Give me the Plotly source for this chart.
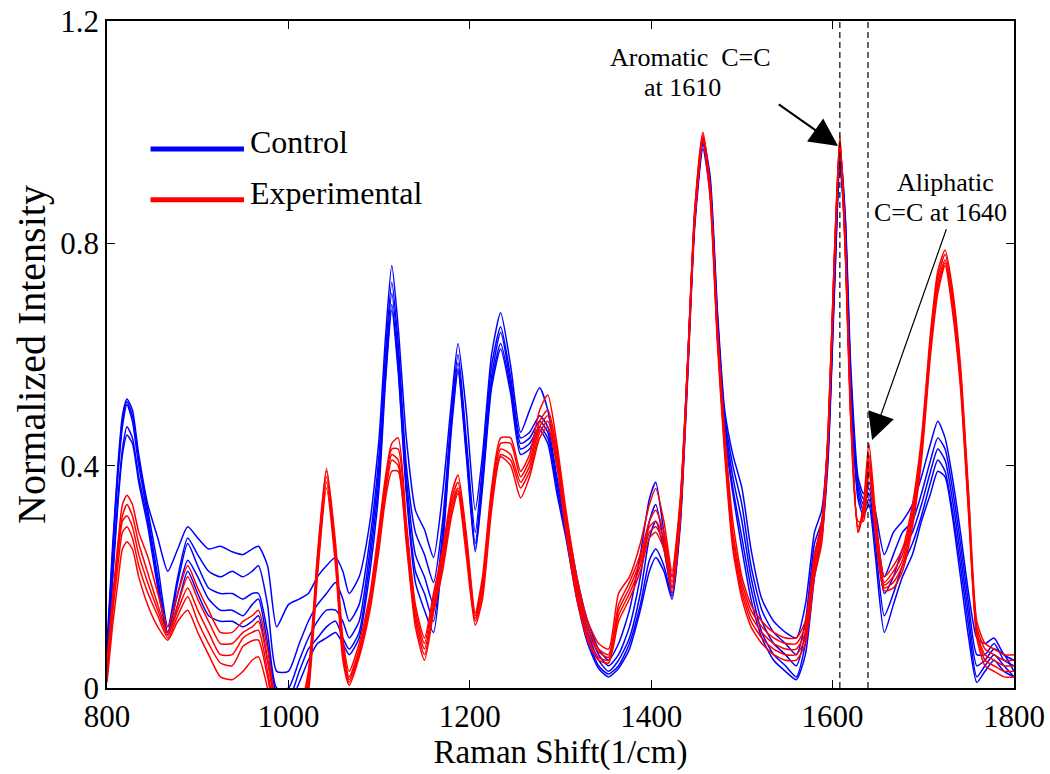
import plotly.graph_objs as go

wavenumber = [
    800, 806, 812, 817, 822, 828, 835, 845, 856, 867,
    878, 889, 900, 912, 925, 938, 950, 960, 967, 977,
    987, 1000, 1012, 1022, 1032, 1042, 1052, 1060, 1067, 1078,
    1090, 1100, 1107, 1114, 1121, 1130, 1140, 1150, 1160, 1170,
    1180, 1187, 1196, 1206, 1214, 1224, 1234, 1245, 1256, 1266,
    1277, 1286, 1296, 1306, 1318, 1330, 1342, 1353, 1364, 1376,
    1388, 1398, 1405, 1414, 1423, 1432, 1440, 1448, 1457, 1465,
    1473, 1481, 1490, 1500, 1510, 1522, 1535, 1548, 1560, 1570,
    1580, 1588, 1595, 1602, 1608, 1614, 1620, 1628, 1634, 1640,
    1647, 1657, 1667, 1677, 1688, 1698, 1708, 1716, 1724, 1732,
    1741, 1750, 1759, 1768, 1778, 1789, 1800]

# Control spectra (blue)
control_1 = [
    0.08, 0.25, 0.40, 0.49, 0.52, 0.50, 0.42, 0.33, 0.27, 0.21,
    0.25, 0.29, 0.27, 0.25, 0.255, 0.245, 0.24, 0.25, 0.255, 0.22,
    0.11, 0.15, 0.16, 0.17, 0.20, 0.22, 0.235, 0.21, 0.17, 0.20,
    0.30, 0.45, 0.63, 0.76, 0.65, 0.45, 0.32, 0.285, 0.235, 0.35,
    0.52, 0.62, 0.50, 0.32, 0.42, 0.60, 0.675, 0.58, 0.46, 0.50,
    0.54, 0.50, 0.40, 0.31, 0.20, 0.12, 0.07, 0.05, 0.08, 0.14,
    0.24, 0.34, 0.37, 0.28, 0.20, 0.33, 0.58, 0.85, 0.99, 0.92,
    0.68, 0.50, 0.42, 0.36, 0.25, 0.16, 0.12, 0.10, 0.09, 0.15,
    0.28, 0.32, 0.45, 0.75, 0.97, 0.85, 0.58, 0.38, 0.35, 0.37,
    0.32, 0.24, 0.28, 0.30, 0.33, 0.38, 0.44, 0.48, 0.45, 0.38,
    0.28, 0.17, 0.09, 0.08, 0.09, 0.06, 0.05]
control_2 = [
    0.06, 0.24, 0.39, 0.48, 0.515, 0.49, 0.41, 0.32, 0.22, 0.11,
    0.20, 0.27, 0.24, 0.21, 0.20, 0.21, 0.20, 0.21, 0.22, 0.15,
    0.03, 0.03, 0.08, 0.12, 0.15, 0.17, 0.19, 0.16, 0.12, 0.15,
    0.27, 0.42, 0.60, 0.73, 0.62, 0.40, 0.28, 0.24, 0.19, 0.30,
    0.50, 0.60, 0.45, 0.28, 0.40, 0.58, 0.65, 0.56, 0.45, 0.46,
    0.49, 0.47, 0.38, 0.30, 0.19, 0.11, 0.06, 0.04, 0.06, 0.11,
    0.20, 0.30, 0.33, 0.26, 0.18, 0.32, 0.58, 0.85, 0.99, 0.91,
    0.67, 0.49, 0.40, 0.33, 0.22, 0.14, 0.10, 0.08, 0.06, 0.12,
    0.26, 0.30, 0.44, 0.74, 0.97, 0.84, 0.56, 0.37, 0.34, 0.36,
    0.30, 0.20, 0.24, 0.28, 0.30, 0.35, 0.41, 0.45, 0.43, 0.36,
    0.26, 0.15, 0.06, 0.06, 0.08, 0.05, 0.04]
control_3 = [
    0.05, 0.23, 0.38, 0.47, 0.51, 0.48, 0.40, 0.31, 0.20, 0.10,
    0.19, 0.26, 0.22, 0.18, 0.17, 0.17, 0.16, 0.17, 0.17, 0.10,
    0.00, 0.00, 0.05, 0.09, 0.12, 0.14, 0.14, 0.12, 0.09, 0.12,
    0.25, 0.40, 0.58, 0.71, 0.60, 0.38, 0.24, 0.20, 0.15, 0.28,
    0.49, 0.585, 0.44, 0.26, 0.38, 0.56, 0.64, 0.55, 0.44, 0.45,
    0.48, 0.46, 0.37, 0.29, 0.18, 0.10, 0.05, 0.03, 0.05, 0.09,
    0.17, 0.27, 0.30, 0.25, 0.17, 0.31, 0.57, 0.84, 0.98, 0.90,
    0.66, 0.48, 0.38, 0.30, 0.20, 0.12, 0.08, 0.06, 0.04, 0.10,
    0.24, 0.29, 0.43, 0.73, 0.96, 0.83, 0.55, 0.36, 0.33, 0.35,
    0.28, 0.17, 0.20, 0.25, 0.28, 0.33, 0.39, 0.43, 0.41, 0.34,
    0.24, 0.13, 0.04, 0.05, 0.07, 0.06, 0.03]
control_4 = [
    0.04, 0.20, 0.34, 0.43, 0.47, 0.45, 0.38, 0.30, 0.19, 0.10,
    0.17, 0.23, 0.20, 0.16, 0.14, 0.14, 0.13, 0.15, 0.16, 0.08,
    -0.01, -0.02, 0.03, 0.07, 0.09, 0.11, 0.12, 0.09, 0.07, 0.10,
    0.23, 0.38, 0.56, 0.69, 0.58, 0.36, 0.21, 0.17, 0.12, 0.26,
    0.48, 0.575, 0.43, 0.25, 0.37, 0.55, 0.62, 0.54, 0.43, 0.44,
    0.47, 0.45, 0.36, 0.28, 0.17, 0.09, 0.04, 0.025, 0.04, 0.08,
    0.15, 0.23, 0.25, 0.22, 0.165, 0.30, 0.56, 0.84, 0.98, 0.90,
    0.65, 0.47, 0.36, 0.27, 0.18, 0.10, 0.06, 0.04, 0.02, 0.08,
    0.22, 0.28, 0.42, 0.72, 0.95, 0.82, 0.54, 0.35, 0.32, 0.34,
    0.26, 0.13, 0.17, 0.22, 0.26, 0.31, 0.37, 0.41, 0.39, 0.32,
    0.22, 0.11, 0.02, 0.04, 0.06, 0.04, 0.02]
control_5 = [
    0.03, 0.19, 0.33, 0.42, 0.455, 0.44, 0.37, 0.29, 0.18, 0.095,
    0.15, 0.21, 0.17, 0.13, 0.12, 0.12, 0.11, 0.12, 0.13, 0.05,
    -0.02, -0.03, 0.01, 0.05, 0.08, 0.09, 0.10, 0.08, 0.06, 0.09,
    0.21, 0.36, 0.55, 0.68, 0.57, 0.35, 0.19, 0.14, 0.10, 0.25,
    0.47, 0.57, 0.42, 0.245, 0.36, 0.54, 0.61, 0.53, 0.42, 0.43,
    0.464, 0.44, 0.35, 0.27, 0.16, 0.08, 0.035, 0.02, 0.035, 0.07,
    0.14, 0.21, 0.235, 0.21, 0.16, 0.29, 0.55, 0.83, 0.97, 0.89,
    0.64, 0.46, 0.35, 0.25, 0.16, 0.09, 0.05, 0.03, 0.015, 0.06,
    0.20, 0.27, 0.41, 0.71, 0.94, 0.81, 0.53, 0.34, 0.31, 0.33,
    0.24, 0.10, 0.15, 0.20, 0.24, 0.30, 0.35, 0.39, 0.38, 0.31,
    0.20, 0.09, 0.01, 0.03, 0.05, 0.03, 0.02]

# Experimental spectra (red)
experimental_1 = [
    0.05, 0.16, 0.26, 0.33, 0.347, 0.33, 0.28, 0.236, 0.17, 0.11,
    0.17, 0.22, 0.18, 0.14, 0.10, 0.10, 0.12, 0.13, 0.14, 0.07,
    -0.03, -0.06, -0.04, 0.03, 0.24, 0.395, 0.26, 0.09, 0.03, 0.08,
    0.17, 0.29, 0.38, 0.44, 0.45, 0.30, 0.15, 0.09, 0.17, 0.25,
    0.35, 0.383, 0.28, 0.135, 0.20, 0.36, 0.45, 0.45, 0.39, 0.42,
    0.50, 0.527, 0.44, 0.32, 0.20, 0.12, 0.08, 0.07, 0.17, 0.20,
    0.26, 0.33, 0.359, 0.30, 0.21, 0.34, 0.58, 0.86, 1.00, 0.90,
    0.65, 0.46, 0.30, 0.20, 0.15, 0.12, 0.10, 0.09, 0.09, 0.12,
    0.24, 0.30, 0.46, 0.78, 0.995, 0.80, 0.50, 0.28, 0.33, 0.44,
    0.32, 0.20, 0.22, 0.25, 0.33, 0.45, 0.64, 0.75, 0.788, 0.72,
    0.58, 0.35, 0.12, 0.08, 0.07, 0.06, 0.06]
experimental_2 = [
    0.04, 0.15, 0.25, 0.31, 0.33, 0.31, 0.26, 0.207, 0.15, 0.10,
    0.15, 0.20, 0.16, 0.12, 0.08, 0.08, 0.10, 0.11, 0.12, 0.05,
    -0.04, -0.07, -0.05, 0.02, 0.23, 0.39, 0.25, 0.08, 0.02, 0.07,
    0.16, 0.28, 0.37, 0.43, 0.43, 0.29, 0.14, 0.08, 0.16, 0.24,
    0.34, 0.37, 0.27, 0.13, 0.19, 0.35, 0.44, 0.44, 0.38, 0.41,
    0.48, 0.50, 0.43, 0.31, 0.19, 0.11, 0.07, 0.06, 0.15, 0.19,
    0.24, 0.30, 0.32, 0.28, 0.20, 0.33, 0.58, 0.86, 0.995, 0.90,
    0.64, 0.45, 0.28, 0.19, 0.14, 0.11, 0.09, 0.08, 0.08, 0.11,
    0.23, 0.29, 0.46, 0.78, 0.99, 0.80, 0.50, 0.28, 0.32, 0.42,
    0.31, 0.19, 0.21, 0.24, 0.32, 0.44, 0.63, 0.74, 0.78, 0.71,
    0.57, 0.34, 0.11, 0.07, 0.06, 0.05, 0.05]
experimental_3 = [
    0.03, 0.14, 0.24, 0.30, 0.31, 0.29, 0.24, 0.189, 0.14, 0.095,
    0.14, 0.18, 0.14, 0.10, 0.06, 0.06, 0.09, 0.10, 0.104, 0.03,
    -0.05, -0.08, -0.06, 0.01, 0.22, 0.38, 0.24, 0.07, 0.015, 0.065,
    0.155, 0.27, 0.36, 0.42, 0.41, 0.28, 0.13, 0.07, 0.15, 0.23,
    0.33, 0.36, 0.26, 0.125, 0.18, 0.34, 0.43, 0.42, 0.37, 0.40,
    0.47, 0.49, 0.42, 0.30, 0.18, 0.10, 0.065, 0.055, 0.14, 0.18,
    0.23, 0.29, 0.30, 0.27, 0.19, 0.32, 0.57, 0.85, 0.99, 0.89,
    0.63, 0.44, 0.27, 0.18, 0.13, 0.10, 0.08, 0.07, 0.07, 0.10,
    0.22, 0.28, 0.45, 0.77, 0.985, 0.79, 0.49, 0.29, 0.31, 0.41,
    0.30, 0.185, 0.20, 0.23, 0.31, 0.43, 0.62, 0.73, 0.77, 0.70,
    0.56, 0.33, 0.10, 0.06, 0.05, 0.04, 0.04]
experimental_4 = [
    0.02, 0.13, 0.22, 0.28, 0.29, 0.27, 0.22, 0.171, 0.13, 0.09,
    0.13, 0.164, 0.12, 0.08, 0.045, 0.04, 0.075, 0.085, 0.086, 0.02,
    -0.06, -0.09, -0.07, 0.00, 0.21, 0.37, 0.23, 0.06, 0.01, 0.06,
    0.15, 0.26, 0.35, 0.41, 0.40, 0.27, 0.12, 0.06, 0.14, 0.22,
    0.32, 0.355, 0.25, 0.12, 0.17, 0.33, 0.42, 0.41, 0.36, 0.39,
    0.46, 0.48, 0.41, 0.29, 0.17, 0.09, 0.055, 0.05, 0.13, 0.17,
    0.22, 0.28, 0.29, 0.26, 0.18, 0.31, 0.57, 0.85, 0.99, 0.89,
    0.63, 0.43, 0.26, 0.17, 0.12, 0.09, 0.07, 0.06, 0.06, 0.09,
    0.21, 0.27, 0.45, 0.77, 0.98, 0.79, 0.49, 0.29, 0.31, 0.40,
    0.29, 0.18, 0.19, 0.22, 0.30, 0.42, 0.61, 0.72, 0.765, 0.69,
    0.55, 0.32, 0.10, 0.05, 0.04, 0.03, 0.03]
experimental_5 = [
    0.01, 0.11, 0.19, 0.25, 0.263, 0.25, 0.20, 0.149, 0.11, 0.086,
    0.12, 0.14, 0.10, 0.06, 0.02, 0.015, 0.03, 0.05, 0.056, 0.00,
    -0.07, -0.10, -0.08, -0.01, 0.20, 0.36, 0.22, 0.05, 0.005, 0.055,
    0.14, 0.25, 0.34, 0.39, 0.39, 0.26, 0.11, 0.05, 0.135, 0.21,
    0.31, 0.35, 0.24, 0.113, 0.16, 0.32, 0.416, 0.40, 0.342, 0.38,
    0.45, 0.47, 0.40, 0.28, 0.16, 0.085, 0.05, 0.045, 0.12, 0.16,
    0.21, 0.27, 0.28, 0.25, 0.17, 0.30, 0.56, 0.84, 0.985, 0.88,
    0.62, 0.42, 0.25, 0.16, 0.11, 0.08, 0.06, 0.05, 0.05, 0.08,
    0.20, 0.26, 0.44, 0.76, 0.975, 0.78, 0.48, 0.30, 0.30, 0.39,
    0.28, 0.175, 0.18, 0.21, 0.29, 0.41, 0.60, 0.71, 0.76, 0.68,
    0.54, 0.31, 0.09, 0.04, 0.03, 0.02, 0.02]

control = [control_1, control_2, control_3, control_4, control_5]
experimental = [experimental_1, experimental_2, experimental_3,
                experimental_4, experimental_5]

# dashed guide lines at the two C=C bands
band_lines = [1608, 1639]

x_ticks = [800, 1000, 1200, 1400, 1600, 1800]
y_ticks = [0, 0.4, 0.8, 1.2]
y_ticktext = ['0', '0.4', '0.8', '1.2']

FONT = 'Liberation Serif'

data = []
for spec in control:
    data.append(go.Scatter(x=wavenumber, y=spec, mode='lines',
                           line=dict(color='#0000ff', width=1.5, shape='spline', smoothing=0.6),
                           showlegend=False, hoverinfo='skip'))
for spec in experimental:
    data.append(go.Scatter(x=wavenumber, y=spec, mode='lines',
                           line=dict(color='#ff0000', width=1.5, shape='spline', smoothing=0.6),
                           showlegend=False, hoverinfo='skip'))

shapes = []
for b in band_lines:
    shapes.append(dict(type='line', xref='x', yref='paper', x0=b, x1=b, y0=0, y1=1,
                       line=dict(color='black', width=1.2, dash='6px,4px')))

# hand-made legend (long thick sample lines like the original)
legend_items = [('Control', '#0000ff', 0.808, 0.818), ('Experimental', '#ff0000', 0.732, 0.742)]
annotations = []
for name, col, yline, ytext in legend_items:
    shapes.append(dict(type='line', xref='paper', yref='paper', x0=0.048, x1=0.151,
                       y0=yline, y1=yline, line=dict(color=col, width=5)))
    annotations.append(dict(xref='paper', yref='paper', x=0.155, y=ytext, text=name,
                            showarrow=False, xanchor='left', yanchor='middle',
                            font=dict(family=FONT, size=32, color='black')))

# band labels
labels = [('Aromatic  C=C', 1443, 1.135), ('at 1610', 1435, 1.081),
          ('Aliphatic', 1725, 0.910), ('C=C at 1640', 1719.5, 0.855)]
for txt, lx, ly in labels:
    annotations.append(dict(x=lx, y=ly, xref='x', yref='y', text=txt, showarrow=False,
                            xanchor='center', yanchor='middle',
                            font=dict(family=FONT, size=26, color='black')))

# arrows pointing at the bands
annotations.append(dict(x=1606, y=0.975, ax=1539, ay=1.052, xref='x', yref='y',
                        axref='x', ayref='y', text='', showarrow=True, arrowhead=2,
                        arrowsize=2.8, arrowwidth=2, arrowcolor='black'))
annotations.append(dict(x=1643.5, y=0.446, ax=1726, ay=0.828, xref='x', yref='y',
                        axref='x', ayref='y', text='', showarrow=True, arrowhead=2,
                        arrowsize=4.5, arrowwidth=1.2, arrowcolor='black'))

axis_common = dict(showline=True, linecolor='black', linewidth=1.5, mirror='ticks',
                   ticks='inside', ticklen=8, tickwidth=1.2, tickcolor='black',
                   showgrid=False, zeroline=False, automargin=False,
                   tickfont=dict(family=FONT, size=31, color='black'))

layout = go.Layout(
    width=1050, height=774,
    margin=dict(l=107, r=36, t=21, b=86),
    paper_bgcolor='white', plot_bgcolor='white',
    font=dict(family=FONT, color='black'),
    xaxis=dict(range=[800, 1800], tickvals=x_ticks,
               title=dict(text='Raman Shift(1/cm)', font=dict(family=FONT, size=33), standoff=3),
               **axis_common),
    yaxis=dict(range=[0, 1.2], tickvals=y_ticks, ticktext=y_ticktext,
               title=dict(text='Normalized Intensity', font=dict(family=FONT, size=40), standoff=2),
               **axis_common),
    shapes=shapes, annotations=annotations)

fig = go.Figure(data=data, layout=layout)
# the page has a default 8px body margin; drop it so the 1050x774 figure fills the window
fig.write_html('out.html', config={'displayModeBar': False},
               post_script="document.body.style.margin='0';document.body.style.overflow='hidden';")
